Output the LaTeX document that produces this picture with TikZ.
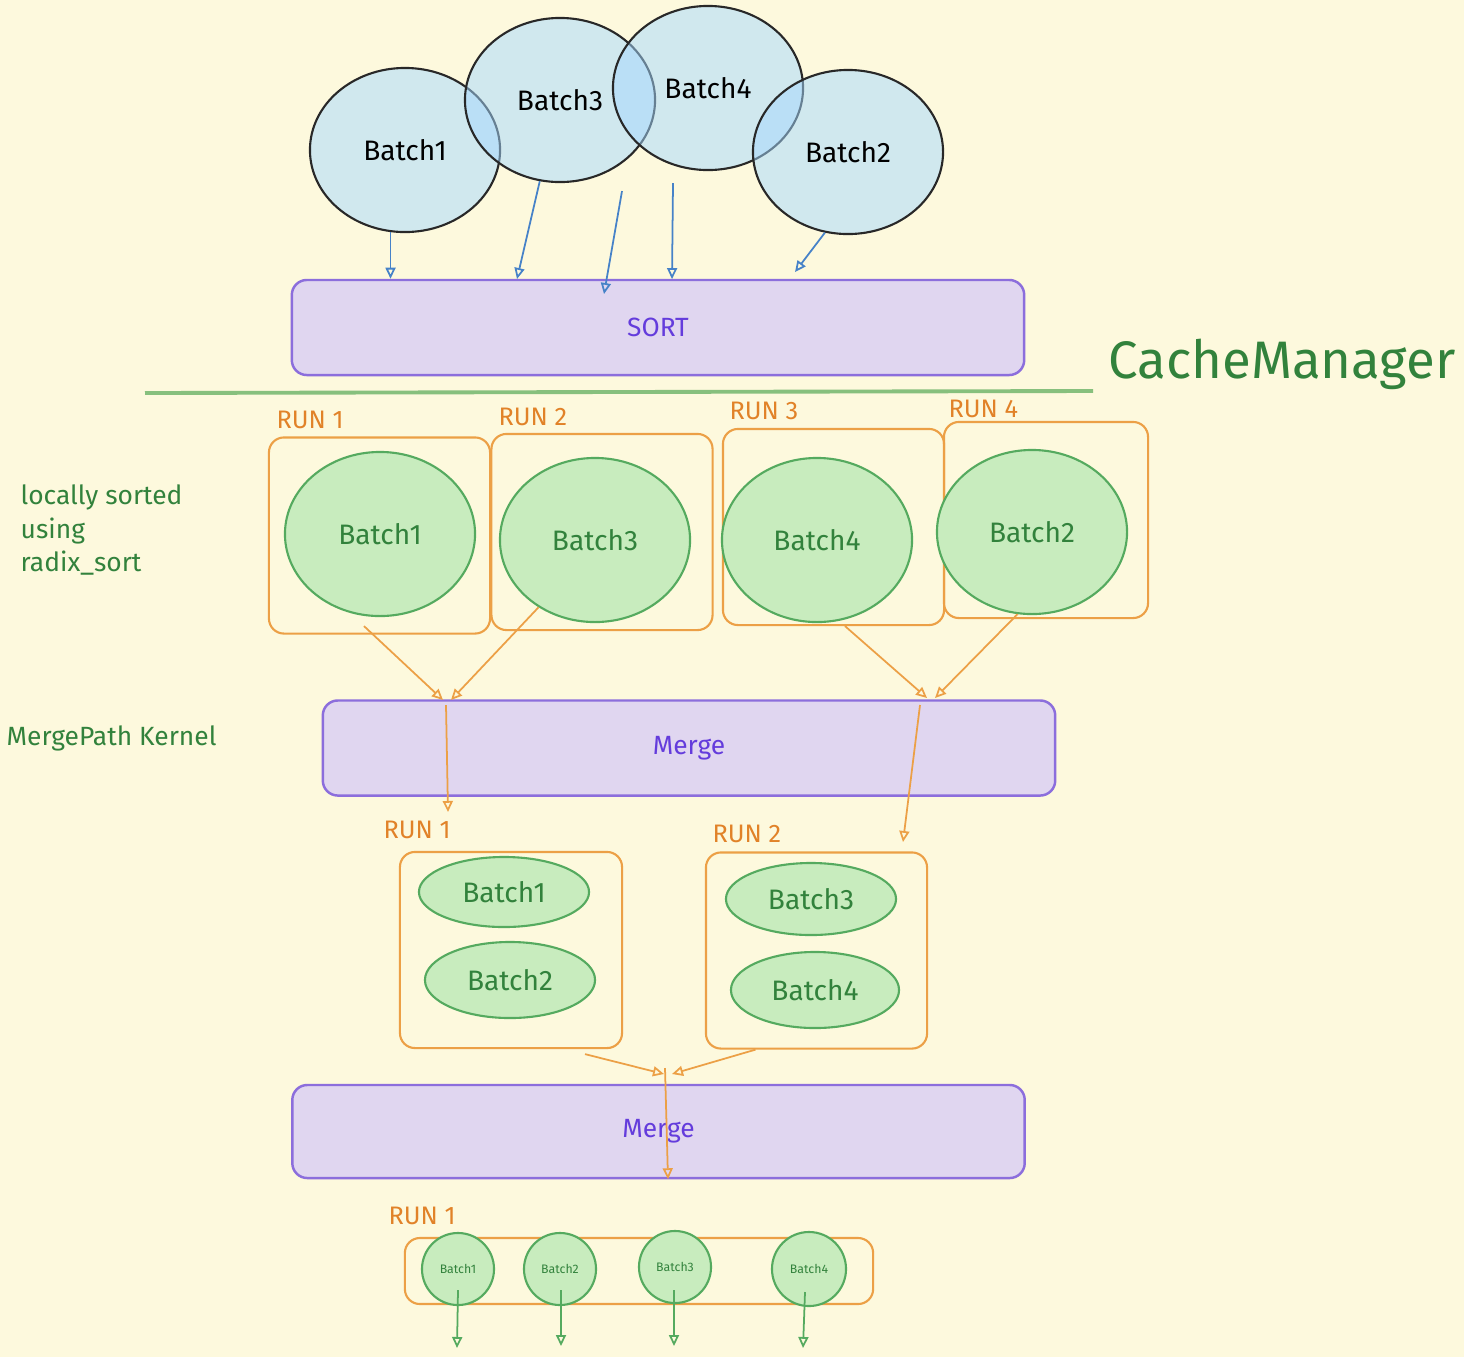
\documentclass[tikz,border=0pt]{standalone}
\usepackage{fontspec}
\setmainfont{Fira Sans}
\usetikzlibrary{shapes.geometric,arrows.meta,calc}

\definecolor{bgyellow}{RGB}{253,249,221}
\definecolor{inkgray}{RGB}{40,40,40}
\definecolor{batchblue}{RGB}{165,216,255}
\definecolor{arrowblue}{RGB}{70,130,200}
\definecolor{stepfill}{RGB}{224,214,240}
\definecolor{stepdraw}{RGB}{140,110,220}
\definecolor{steptext}{RGB}{100,60,220}
\definecolor{runfill}{RGB}{200,236,190}
\definecolor{rundraw}{RGB}{85,170,95}
\definecolor{runtext}{RGB}{50,130,60}
\definecolor{runorange}{RGB}{236,160,70}
\definecolor{runlabeltext}{RGB}{225,130,40}
\definecolor{sepgreen}{RGB}{135,192,125}

\tikzset{
    batchtop/.style={ellipse, draw=inkgray, line width=0.6pt, fill=batchblue, fill opacity=0.5, text opacity=1,
        minimum width=1.9cm, minimum height=1.64cm, font=\fontsize{8}{9}\selectfont, text=black},
    batchrun/.style={ellipse, draw=rundraw, line width=0.6pt, fill=runfill,
        minimum width=1.9cm, minimum height=1.64cm, font=\fontsize{8}{9}\selectfont, text=runtext},
    batchflat/.style={batchrun, minimum width=1.7cm, minimum height=0.74cm},
    batchdot/.style={batchrun, inner sep=0pt, minimum width=0.72cm, minimum height=0.72cm, font=\fontsize{3.5}{4}\selectfont},
    stepbox/.style={draw=stepdraw, line width=0.7pt, fill=stepfill, rounded corners=0.15cm,
        minimum width=7.32cm, minimum height=0.95cm, text=steptext, font=\fontsize{7.5}{9}\selectfont},
    runbox/.style={draw=runorange, line width=0.6pt, rounded corners=0.15cm, minimum width=2.21cm, minimum height=1.96cm},
    runlabel/.style={anchor=west, inner sep=0pt, text=runlabeltext, font=\fontsize{7.2}{9}\selectfont},
    note/.style={anchor=west, inner sep=0pt, align=left, text=runtext, font=\fontsize{7.5}{9.4}\selectfont},
    bluearrow/.style={draw=arrowblue, line width=0.5pt, -{Triangle[open, length=0.11cm, width=0.1cm]}},
    orangearrow/.style={draw=runorange, line width=0.5pt, -{Triangle[open, length=0.11cm, width=0.1cm]}},
    greenarrow/.style={draw=rundraw, line width=0.5pt, -{Triangle[open, length=0.11cm, width=0.1cm]}}
}

\begin{document}
\begin{tikzpicture}[x=0.01cm, y=-0.01cm]
    \useasboundingbox (0,0) rectangle (1464,1357);
    \fill[bgyellow] (0,0) rectangle (1464,1357);

    \node[batchtop] (tb1) at (405,150) {Batch1};
    \node[batchtop] (tb3) at (560,100) {Batch3};
    \node[batchtop] (tb4) at (708,88) {Batch4};
    \node[batchtop] (tb2) at (848,152) {Batch2};

    \node[stepbox] (sort) at (658,327.5) {SORT};

    \coordinate (s3) at (517,279);
    \coordinate (s4a) at (604,294);
    \coordinate (s2) at (795,272);
    \draw[bluearrow] (tb1.-100) -- (tb1.-100 |- sort.north);
    \draw[bluearrow] (tb3.-104) -- (s3);
    \draw[bluearrow] ($(tb4.south)+(-86,20)$) -- (s4a);
    \draw[bluearrow] ($(tb4.south)+(-35,12)$) -- ($(tb4.south)+(-36,108)$);
    \draw[bluearrow] (tb2.-106) -- (s2);

    \draw[sepgreen, line width=1.1pt] (145,393) -- (1093,391);
    \node[text=runtext, font=\fontsize{15}{18}\selectfont] (cm) at (1282,364) {CacheManager};

    \node[note] (sorted) at (20,530) {locally sorted\\using\\radix\_sort};
    \node[note] (kernel) at (6,738) {MergePath Kernel};

    \node[runbox] (run1) at (379.5,535.5) {};
    \node[runbox] (run2) at (602,532) {};
    \node[runbox] (run3) at (833.5,527) {};
    \node[runbox, minimum width=2.04cm] (run4) at (1046,520) {};
    \node[runlabel] (lr1) at (276,420) {RUN 1};
    \node[runlabel] (lr2) at (498,417) {RUN 2};
    \node[runlabel] (lr3) at (729,411) {RUN 3};
    \node[runlabel] (lr4) at (948,409) {RUN 4};

    \node[batchrun] (gb1) at (380,534) {Batch1};
    \node[batchrun] (gb3) at (595,540) {Batch3};
    \node[batchrun] (gb4) at (817,540) {Batch4};
    \node[batchrun] (gb2) at (1032,532) {Batch2};

    \node[stepbox] (merge1) at (689,748) {Merge};

    \coordinate (joinA) at (447,700);
    \coordinate (joinB) at (931,698);
    \draw[orangearrow] ($(gb1.south)+(-16,9)$) -- ($(joinA)+(-4,0)$);
    \draw[orangearrow] (gb3.-130) -- ($(joinA)+(4,0)$);
    \draw[orangearrow] ($(gb4.south)+(28,3)$) -- ($(joinB)+(-4,0)$);
    \draw[orangearrow] (gb2.-100) -- ($(joinB)+(4,0)$);

    \coordinate (inA) at (448,812);
    \coordinate (inB) at (903,842);
    \draw[orangearrow] ($(joinA)+(-1,5)$) -- (inA);
    \draw[orangearrow] ($(joinB)+(-11,7)$) -- (inB);

    \node[runbox, minimum width=2.22cm] (rA) at (511,950) {};
    \node[runbox] (rB) at (816.5,950.5) {};
    \node[runlabel] (lrA) at (383,830) {RUN 1};
    \node[runlabel] (lrB) at (712,834) {RUN 2};

    \node[batchflat, minimum height=0.70cm] (eA1) at (504,892) {Batch1};
    \node[batchflat, minimum height=0.76cm] (eA2) at (510,980) {Batch2};
    \node[batchflat, minimum height=0.72cm] (eB1) at (811,899) {Batch3};
    \node[batchflat, minimum height=0.76cm, minimum width=1.68cm] (eB2) at (815,990) {Batch4};

    \node[stepbox, minimum height=0.93cm] (merge2) at (658.5,1131.5) {Merge};

    \coordinate (joinC) at (668,1074);
    \draw[orangearrow] ($(rA.south)+(74,5)$) -- ($(joinC)+(-4,0)$);
    \draw[orangearrow] ($(rB.south)+(-61,0)$) -- ($(joinC)+(4,0)$);
    \draw[orangearrow] ($(joinC)+(-3,-6)$) -- (merge2.south -| joinC);

    \node[runbox, minimum width=4.68cm, minimum height=0.66cm] (rC) at (639,1271) {};
    \node[runlabel] (lrC) at (388,1216) {RUN 1};

    \node[batchdot] (sc1) at (458,1269) {Batch1};
    \node[batchdot] (sc2) at (560,1269) {Batch2};
    \node[batchdot] (sc3) at (675,1267) {Batch3};
    \node[batchdot, minimum width=0.74cm, minimum height=0.74cm] (sc4) at (809,1269) {Batch4};

    \draw[greenarrow] ($(sc1)+(0,21)$) -- ++(-1,58);
    \draw[greenarrow] ($(sc2)+(1,21)$) -- ++(0,56);
    \draw[greenarrow] ($(sc3)+(-1,23)$) -- ++(0,56);
    \draw[greenarrow] ($(sc4)+(-4,23)$) -- ++(-2,56);
\end{tikzpicture}
\end{document}
